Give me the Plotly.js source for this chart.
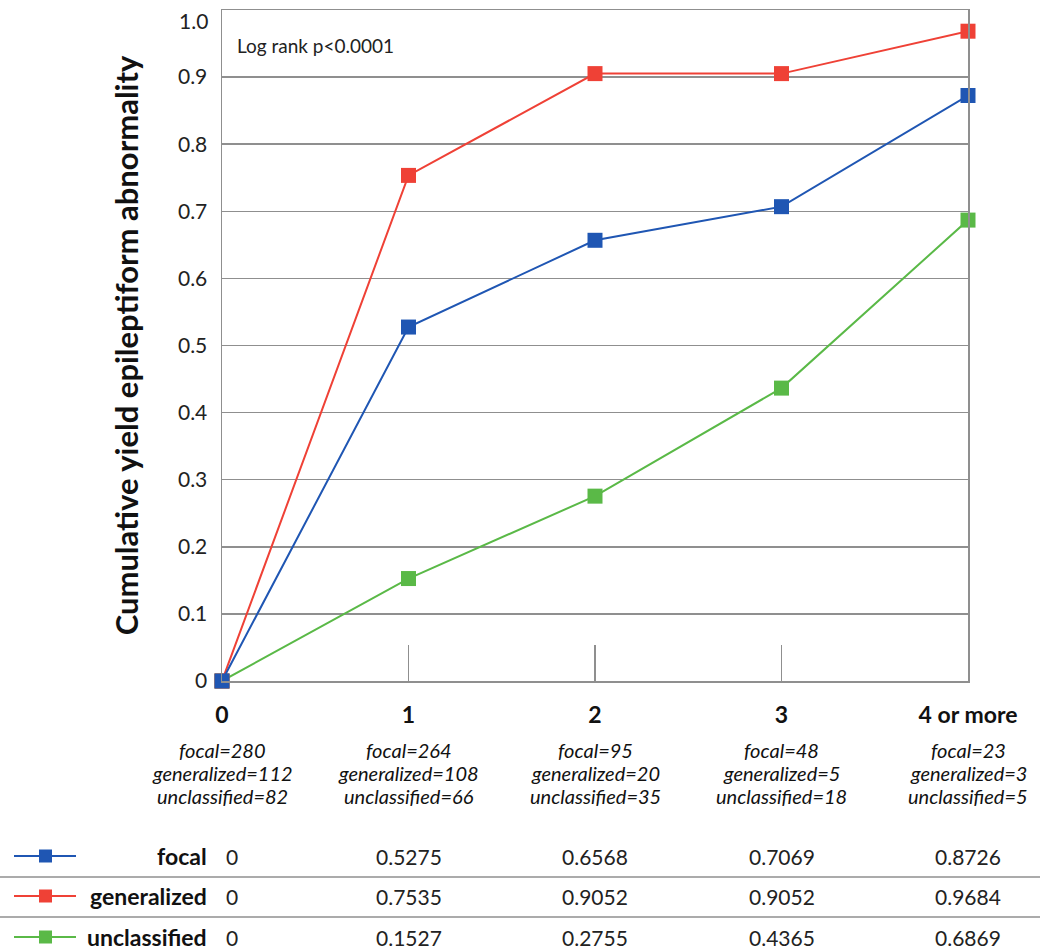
<!DOCTYPE html>
<html>
<head>
<meta charset="utf-8">
<script src="https://cdn.plot.ly/plotly-3.0.1.min.js"></script>
<style>
  html, body { margin: 0; padding: 0; background: #fff; }
  #chart { width: 1050px; height: 950px; }
</style>
</head>
<body>
<div id="chart"></div>
<script>
// ---- Data ----
const categories = ["0", "1", "2", "3", "4 or more"];
const focal = [0, 0.5275, 0.6568, 0.7069, 0.8726];
const generalized = [0, 0.7535, 0.9052, 0.9052, 0.9684];
const unclassified = [0, 0.1527, 0.2755, 0.4365, 0.6869];
const focalN = [280, 264, 95, 48, 23];
const generalizedN = [112, 108, 20, 5, 3];
const unclassifiedN = [82, 66, 35, 18, 5];
const yTickVals = [0, 0.1, 0.2, 0.3, 0.4, 0.5, 0.6, 0.7, 0.8, 0.9];
const yTickText = ["0", "0.1", "0.2", "0.3", "0.4", "0.5", "0.6", "0.7", "0.8", "0.9"];
const yTopLabel = "1.0";
const seriesNames = ["focal", "generalized", "unclassified"];
const seriesValues = [focal, generalized, unclassified];
const seriesCounts = [focalN, generalizedN, unclassifiedN];
const seriesColors = ["#1f56b3", "#ef4136", "#5ab947"];

const FONT = "Lato, 'Open Sans', 'Liberation Sans', sans-serif";
const GRID = "#8f8f8f";

// ---- Traces (drawn unclassified, generalized, focal so focal is on top) ----
const traces = [2, 1, 0].map(i => ({
  type: "scatter",
  mode: "lines+markers",
  name: seriesNames[i],
  x: categories,
  y: seriesValues[i],
  line: { color: seriesColors[i], width: 2 },
  marker: { symbol: "square", size: 15, color: seriesColors[i] },
  cliponaxis: false,
  showlegend: false
}));

// ---- Layout geometry (paper coords) ----
const plotL = 222, plotR = 968, plotT = 10, plotB = 681;
const pw = plotR - plotL, ph = plotB - plotT;
const px = X => (X - plotL) / pw;
const py = Y => (plotB - Y) / ph;

const annotations = [];

// Top y label (placed just below the top edge, as in the reference)
annotations.push({
  xref: "paper", yref: "paper", x: px(210), y: py(20),
  xanchor: "right", yanchor: "middle", showarrow: false,
  text: yTopLabel,
  font: { family: FONT, size: 21, color: "#222" }
});

// Log rank text
annotations.push({
  xref: "paper", yref: "paper", x: px(235), y: py(45),
  xanchor: "left", yanchor: "middle", showarrow: false,
  text: "Log rank p&lt;0.0001",
  font: { family: FONT, size: 19, color: "#222" }
});

// Count annotations under each category (one line each)
const countY = [750, 773, 796];
categories.forEach((c, k) => {
  seriesNames.forEach((name, r) => {
    annotations.push({
      xref: "x", yref: "paper", x: c, y: py(countY[r]),
      xanchor: "center", yanchor: "middle", showarrow: false,
      text: "<i>" + name + "=" + seriesCounts[r][k] + "</i>",
      font: { family: FONT, size: 20, color: "#111" }
    });
  });
});

// Table rows
const rowY = [856, 896, 937];
const shapes = [];
seriesNames.forEach((name, r) => {
  annotations.push({
    xref: "paper", yref: "paper", x: px(209), y: py(rowY[r]),
    xanchor: "right", yanchor: "middle", showarrow: false,
    text: "<b>" + name + "</b>",
    font: { family: FONT, size: 23, color: "#111" }
  });
  categories.forEach((c, k) => {
    const v = seriesValues[r][k];
    annotations.push({
      xref: "x", yref: "paper", x: c, y: py(rowY[r]),
      xanchor: k === 0 ? "left" : "center", xshift: k === 0 ? 2 : 0,
      yanchor: "middle", showarrow: false,
      text: v === 0 ? "0" : v.toFixed(4),
      font: { family: FONT, size: 21, color: "#222" }
    });
  });
  // legend glyph: line + square
  shapes.push({
    type: "line", xref: "paper", yref: "paper",
    x0: px(14), x1: px(76), y0: py(rowY[r]), y1: py(rowY[r]),
    line: { color: seriesColors[r], width: 2 }
  });
  shapes.push({
    type: "rect", xref: "paper", yref: "paper",
    x0: px(39), x1: px(52), y0: py(rowY[r] - 6.5), y1: py(rowY[r] + 6.5),
    line: { width: 0 }, fillcolor: seriesColors[r]
  });
});
// Row separators
[877, 917].forEach(Y => {
  shapes.push({
    type: "line", xref: "paper", yref: "paper",
    x0: px(0), x1: px(1040), y0: py(Y), y1: py(Y),
    line: { color: GRID, width: 1.5 }
  });
});

const layout = {
  width: 1050, height: 950,
  margin: { l: plotL, r: 1050 - plotR, t: plotT, b: 950 - plotB, pad: 0 },
  paper_bgcolor: "#fff", plot_bgcolor: "#fff",
  showlegend: false,
  font: { family: FONT, color: "#222" },
  xaxis: {
    type: "category",
    categoryorder: "array", categoryarray: categories,
    range: [0, 4],
    showgrid: false, zeroline: false,
    showline: true, linecolor: GRID, linewidth: 1.5, mirror: true,
    ticks: "inside", ticklen: 36, tickwidth: 1.5, tickcolor: GRID,
    tickvals: categories,
    ticktext: categories.map(c => "<b>" + c + "</b>"),
    tickfont: { family: FONT, size: 23, color: "#111" },
    ticklabelstandoff: 13,
    fixedrange: true
  },
  yaxis: {
    range: [0, 1.0],
    tickvals: yTickVals, ticktext: yTickText,
    showgrid: true, gridcolor: GRID, gridwidth: 1.5,
    zeroline: false,
    showline: true, linecolor: GRID, linewidth: 1.5, mirror: true,
    ticks: "", ticklabelstandoff: 9,
    tickfont: { family: FONT, size: 21, color: "#222" },
    title: {
      text: "<b>Cumulative yield epileptiform abnormality</b>",
      font: { family: FONT, size: 31, color: "#111" },
      standoff: 30
    },
    automargin: false,
    fixedrange: true
  },
  annotations: annotations,
  shapes: shapes
};

Plotly.newPlot("chart", traces, layout, { displayModeBar: false, staticPlot: true });
</script>
</body>
</html>
